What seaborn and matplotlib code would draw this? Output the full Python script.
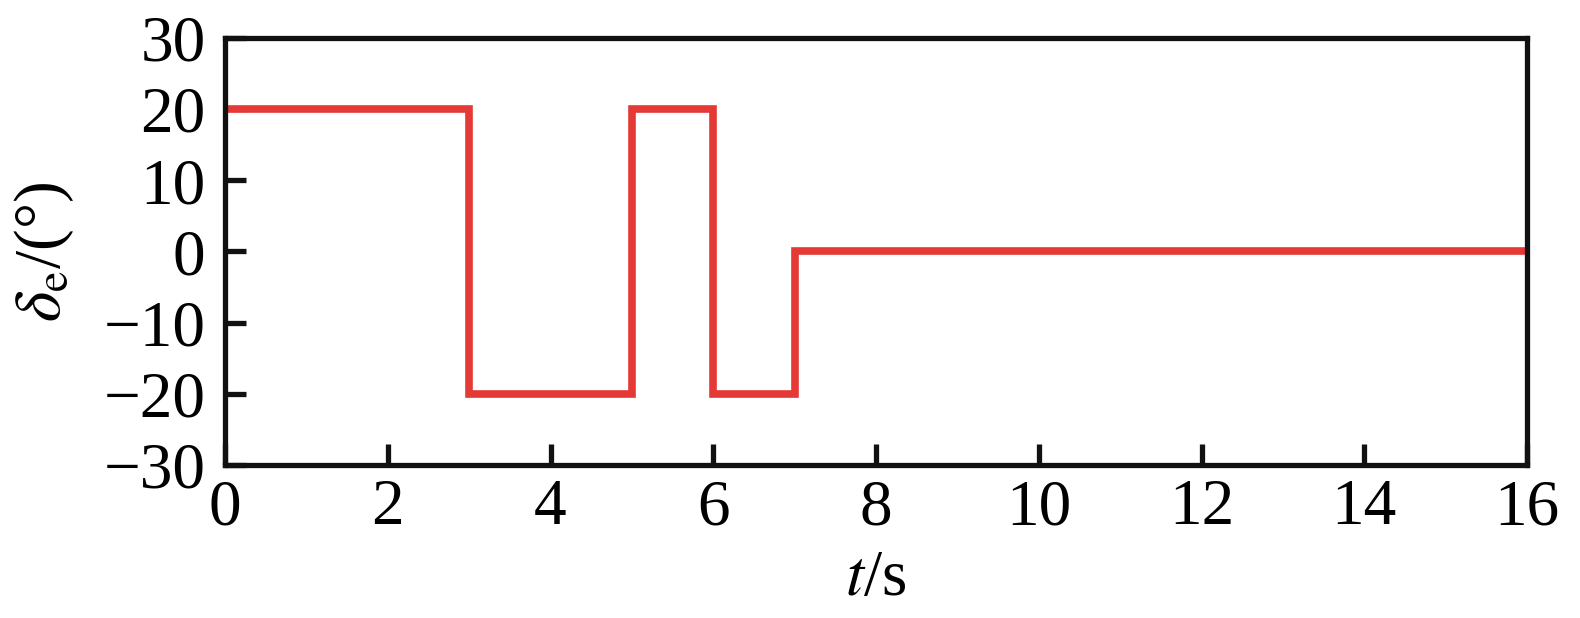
import numpy as np
import pandas as pd
import matplotlib
matplotlib.use("Agg")
import matplotlib.pyplot as plt
import seaborn as sns

# step signal: value holds from each time until the next one
t_s = [0, 3, 5, 6, 7, 16]
delta_e = [20, -20, 20, -20, 0, 0]

x_ticks = [0, 2, 4, 6, 8, 10, 12, 14, 16]
y_ticks = [-30, -20, -10, 0, 10, 20, 30]

sns.set_style("white")
plt.rcParams['font.family'] = ['Liberation Serif', 'DejaVu Serif']
plt.rcParams['mathtext.fontset'] = 'stix'
plt.rcParams['text.color'] = 'black'
plt.rcParams['axes.labelcolor'] = 'black'
plt.rcParams['xtick.color'] = 'black'
plt.rcParams['ytick.color'] = 'black'

df = pd.DataFrame({'t': t_s, 'delta': delta_e})

fig = plt.figure(figsize=(15.8, 6.18), dpi=100)
ax = fig.add_axes([0.1424, 0.2476, 0.9665 - 0.1424, 0.9385 - 0.2476])

sns.lineplot(data=df, x='t', y='delta', ax=ax, color='#e53935',
             drawstyle='steps-post')
for ln in ax.lines:
    ln.set_linewidth(5.5)
    ln.set_solid_joinstyle('miter')

ax.set_xlim(0, 16)
ax.set_ylim(-30, 30)
ax.set_xticks(x_ticks)
ax.set_yticks(y_ticks)
ax.set_yticklabels([str(v).replace('-', '\u2212') for v in y_ticks])

for sp in ax.spines.values():
    sp.set_linewidth(3.8)
    sp.set_color('#111111')

ax.tick_params(axis='both', direction='in', length=15, width=3.8,
               color='#111111', labelcolor='black', labelsize=47,
               bottom=True, left=True, top=False, right=False)
ax.tick_params(axis='x', pad=10)
ax.tick_params(axis='y', pad=14)

ax.set_xlabel(r'$t$/s', fontsize=47, labelpad=8)
ax.set_ylabel(r'$\delta_{\mathrm{e}}$/(°)', fontsize=47, labelpad=20)

fig.savefig('out.png', dpi=100)
